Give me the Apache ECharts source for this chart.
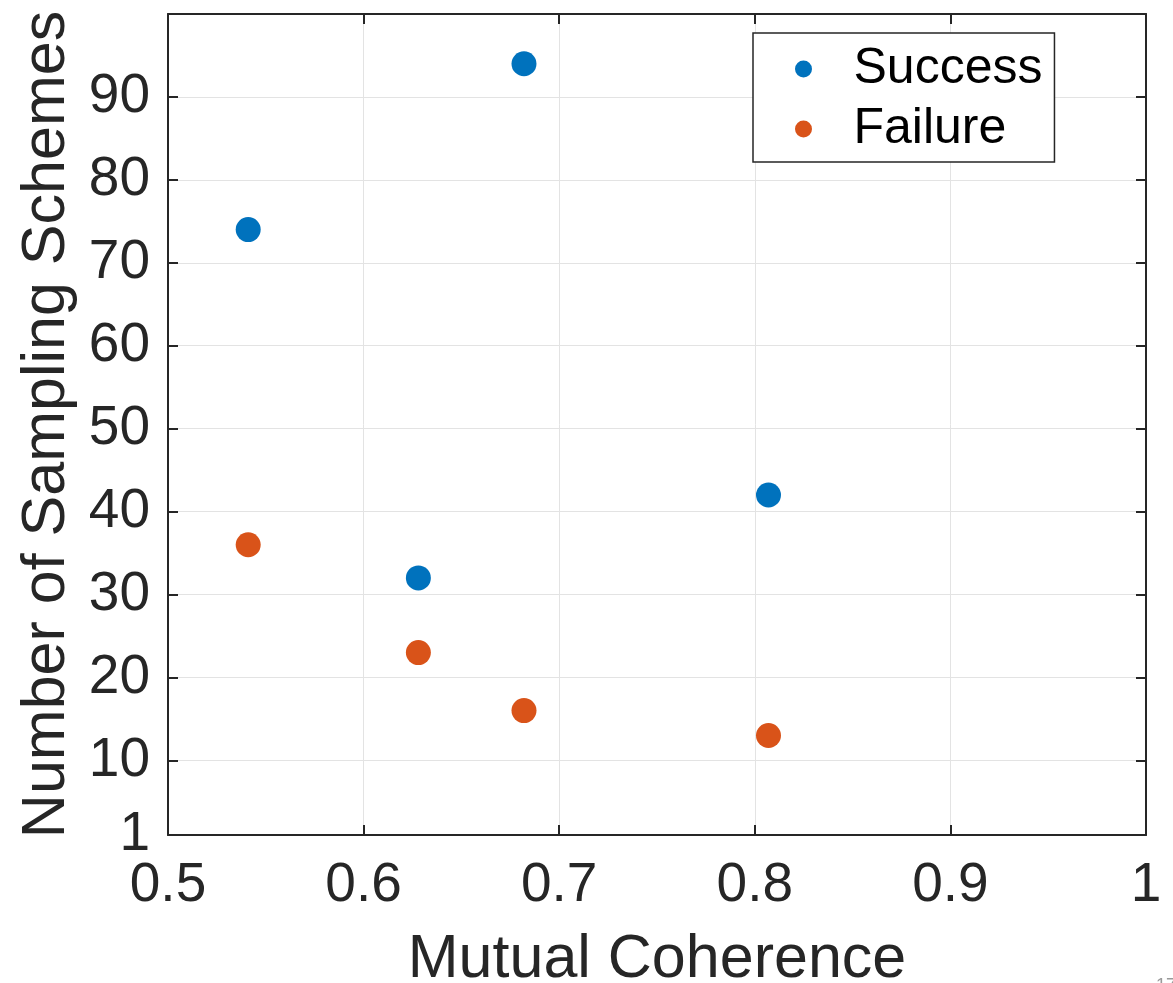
<!DOCTYPE html>
<html>
<head>
<meta charset="utf-8">
<script src="https://cdn.jsdelivr.net/npm/echarts@6/dist/echarts.min.js"></script>
<style>html,body{margin:0;padding:0;background:#fff;overflow:hidden}#c{width:1173px;height:983px}</style>
</head>
<body>
<div id="c"></div>
<script>
const seriesNames = ['Success', 'Failure'];
const successData = [[0.541, 74], [0.628, 32], [0.682, 94], [0.807, 42]];
const failureData = [[0.541, 36], [0.628, 23], [0.682, 16], [0.807, 13]];
const xTicks = [0.5, 0.6, 0.7, 0.8, 0.9, 1];
const yTicks = [1, 10, 20, 30, 40, 50, 60, 70, 80, 90];
const xTitle = 'Mutual Coherence';
const yTitle = 'Number of Sampling Schemes';
const cornerText = '17';

const FONT = '"Liberation Sans", Arial, Helvetica, sans-serif';
const AX = '#262626';
const GRID = '#e3e3e3';
const chart = echarts.init(document.getElementById('c'), null, {renderer: 'canvas'});

const baseAxisLine = {show: true, lineStyle: {color: AX, width: 2}};
chart.setOption({
  animation: false,
  backgroundColor: '#fff',
  grid: {left: 168, top: 14, width: 978, height: 821, containLabel: false, outerBoundsMode: 'none'},
  legend: {
    orient: 'vertical',
    left: 753, top: 33,
    backgroundColor: '#fff',
    borderColor: AX, borderWidth: 1.5,
    padding: [11, 12, 8, 42],
    itemWidth: 80, itemHeight: 17, itemGap: 10,
    icon: 'circle',
    textStyle: {fontFamily: FONT, fontSize: 50, color: '#000', lineHeight: 50, padding: [0, 0, 0, 5]},
    data: seriesNames
  },
  graphic: [{
    type: 'text', left: 1156, top: 977, silent: true,
    style: {text: cornerText, fontFamily: FONT, fontSize: 18, fill: '#9a9a9a'}
  }],
  xAxis: [{
    type: 'value', min: 0.5, max: 1, interval: 0.1,
    axisLine: baseAxisLine,
    axisTick: {show: true, inside: true, length: 10, lineStyle: {color: AX, width: 2}},
    axisLabel: {show: true, fontFamily: FONT, fontSize: 55, color: AX, margin: 23,
      customValues: xTicks, formatter: v => String(+v.toFixed(1))},
    splitLine: {show: true, lineStyle: {color: GRID, width: 1}},
    name: xTitle, nameLocation: 'middle', nameGap: 95,
    nameTextStyle: {fontFamily: FONT, fontSize: 61, color: AX}
  }, {
    type: 'value', min: 0.5, max: 1, interval: 0.1, position: 'top',
    axisLine: baseAxisLine,
    axisTick: {show: true, inside: true, length: 10, lineStyle: {color: AX, width: 2}},
    axisLabel: {show: false}, splitLine: {show: false}
  }],
  yAxis: [{
    type: 'value', min: 1, max: 100,
    axisLine: baseAxisLine,
    axisTick: {show: true, inside: true, length: 10, customValues: yTicks, lineStyle: {color: AX, width: 2}},
    axisLabel: {show: true, fontFamily: FONT, fontSize: 55, color: AX, margin: 18, customValues: yTicks},
    splitLine: {show: true, lineStyle: {color: GRID, width: 1}},
    name: yTitle, nameLocation: 'middle', nameGap: 90,
    nameTextStyle: {fontFamily: FONT, fontSize: 61, color: AX}
  }, {
    type: 'value', min: 1, max: 100, position: 'right',
    axisLine: baseAxisLine,
    axisTick: {show: true, inside: true, length: 10, customValues: yTicks.slice(1), lineStyle: {color: AX, width: 2}},
    axisLabel: {show: false}, splitLine: {show: false}
  }],
  series: [{
    name: seriesNames[0], type: 'scatter', data: successData, symbolSize: 25,
    itemStyle: {color: '#0072BD', opacity: 1}
  }, {
    name: seriesNames[1], type: 'scatter', data: failureData, symbolSize: 25,
    itemStyle: {color: '#D95319', opacity: 1}
  }]
});
</script>
</body>
</html>
